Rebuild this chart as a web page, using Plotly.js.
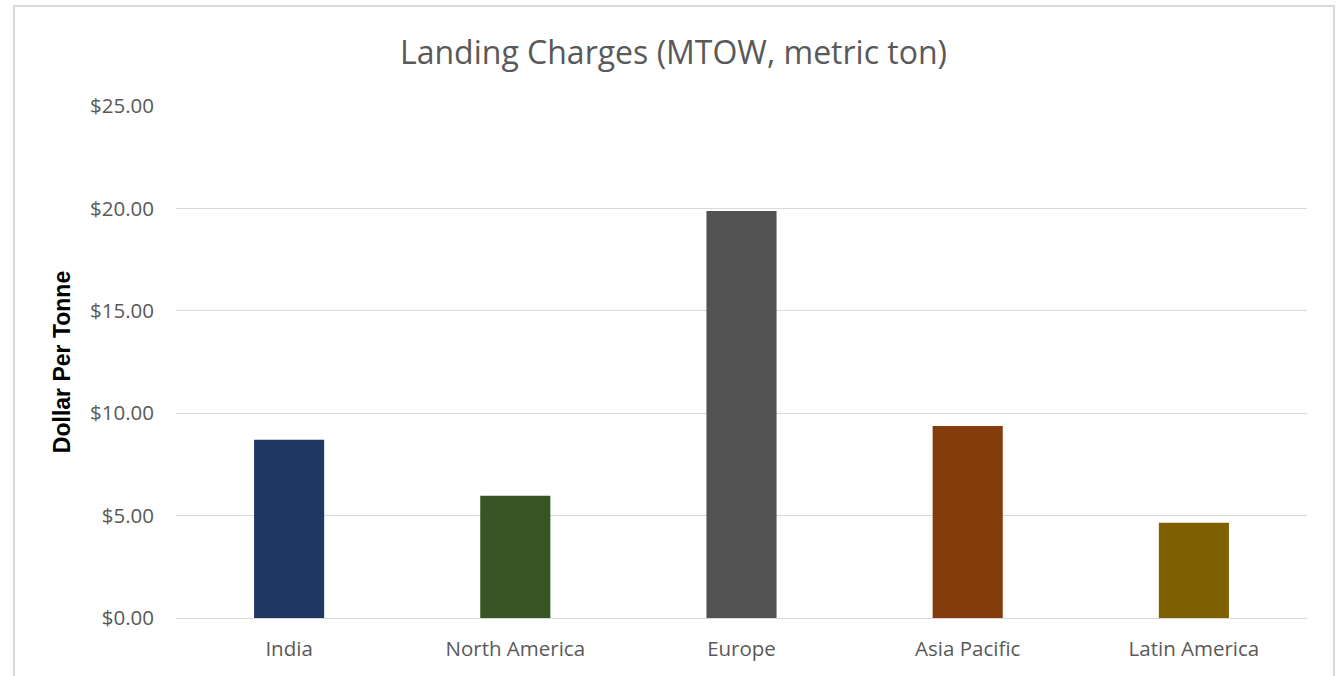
<!DOCTYPE html>
<html>
<head>
<meta charset="utf-8">
<script src="https://cdn.plot.ly/plotly-3.0.1.min.js"></script>
<style>
html,body{margin:0;padding:0;background:#fff;overflow:hidden;}
#frame{position:absolute;left:13px;top:5px;width:1322px;height:700px;border:2px solid #D9D9D9;box-sizing:border-box;}
#chart{position:absolute;left:0;top:0;width:1339px;height:676px;}
</style>
</head>
<body>
<div id="frame"></div>
<div id="chart"></div>
<script>
const categories = ["India", "North America", "Europe", "Asia Pacific", "Latin America"];
const values = [8.70, 5.97, 19.87, 9.38, 4.65];
const barColors = ["#1F3864", "#375623", "#525252", "#843C0C", "#7F6000"];
const yTickVals = [0, 5, 10, 15, 20, 25];
const yTickText = ["$0.00", "$5.00", "$10.00", "$15.00", "$20.00", "$25.00"];

const trace = {
  type: "bar",
  x: categories,
  y: values,
  marker: {color: barColors},
  width: 0.31,
  hoverinfo: "x+y"
};

const layout = {
  width: 1339,
  height: 676,
  paper_bgcolor: "rgba(0,0,0,0)",
  plot_bgcolor: "rgba(0,0,0,0)",
  margin: {l: 176, r: 32, t: 106, b: 58},
  showlegend: false,
  title: {
    text: "Landing Charges (MTOW, metric ton)",
    font: {family: "'Open Sans', sans-serif", size: 32, color: "#595959"},
    x: 0.503, xanchor: "center",
    y: 0.922, yanchor: "middle"
  },
  xaxis: {
    type: "category",
    tickfont: {family: "'Open Sans', sans-serif", size: 20.5, color: "#595959"},
    showgrid: false,
    zeroline: false,
    showline: false,
    ticks: "",
    ticklabelstandoff: 16
  },
  yaxis: {
    range: [0, 25],
    tickvals: yTickVals,
    ticktext: yTickText,
    tickfont: {family: "'Open Sans', sans-serif", size: 20.5, color: "#595959"},
    showgrid: true,
    gridcolor: "#D9D9D9",
    gridwidth: 1,
    zeroline: true,
    zerolinecolor: "#D9D9D9",
    zerolinewidth: 1,
    showline: false,
    ticks: "",
    ticklabelstandoff: 21,
    title: {
      text: "<b>Dollar Per Tonne</b>",
      font: {family: "'Liberation Sans', Arial, sans-serif", size: 23, color: "#000000"},
      standoff: 12
    }
  },
  bargap: 0.69
};

Plotly.newPlot("chart", [trace], layout, {displayModeBar: false, staticPlot: true});
</script>
</body>
</html>
